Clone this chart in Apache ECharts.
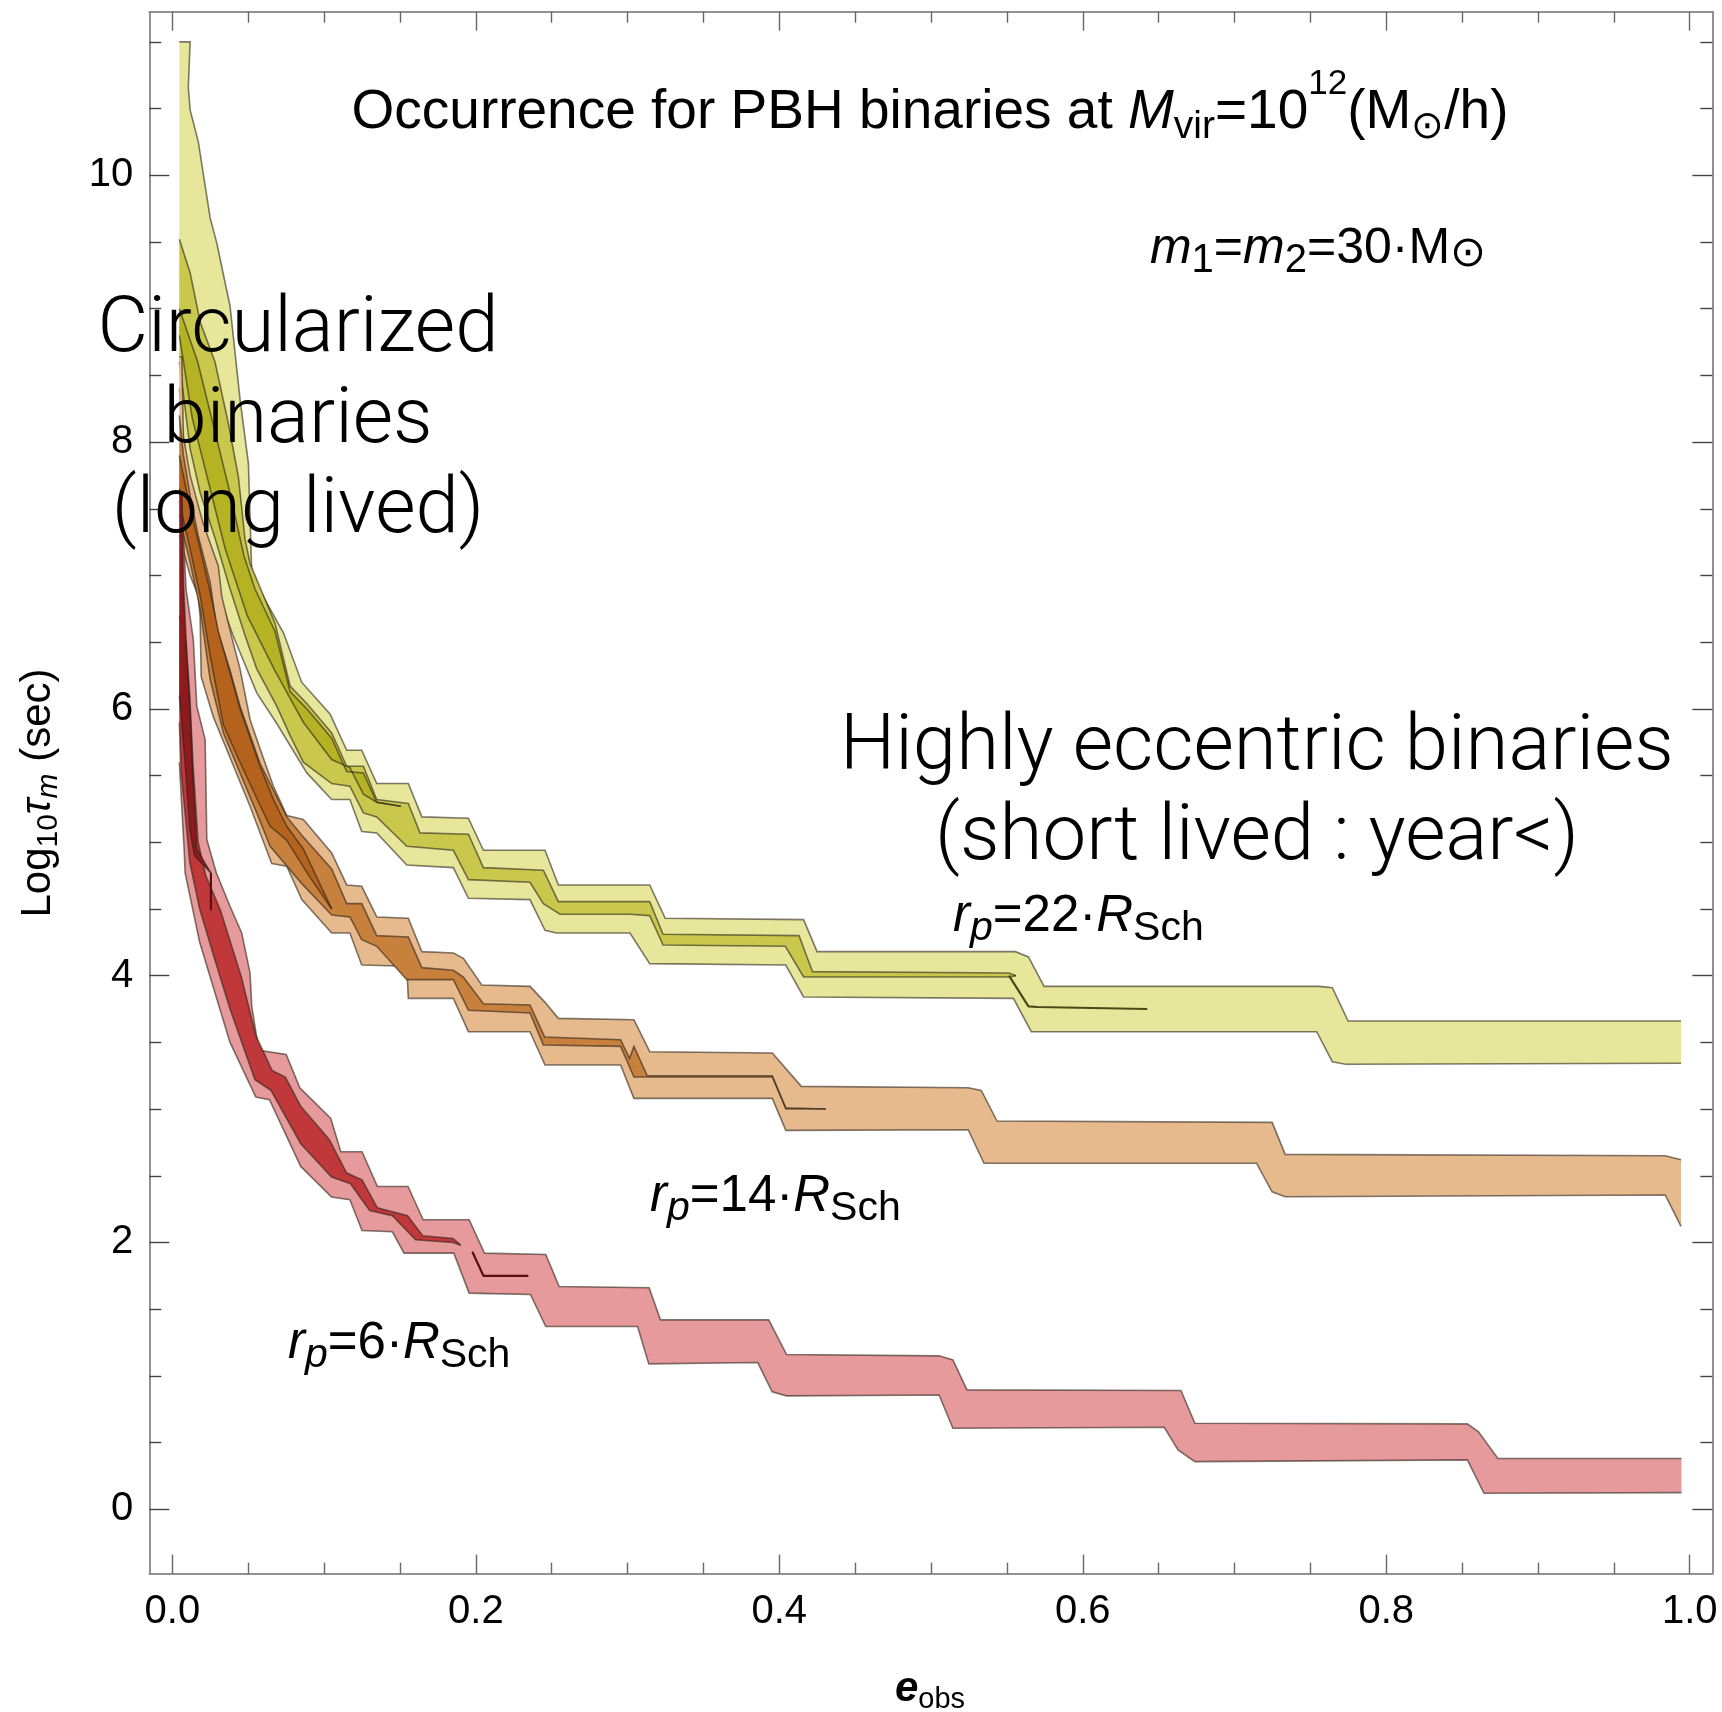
<!DOCTYPE html>
<html><head><meta charset="utf-8">
<script src="https://cdn.jsdelivr.net/npm/echarts@6/dist/echarts.min.js"></script>
<style>html,body{margin:0;padding:0;background:#fff}#c{width:1722px;height:1712px}</style>
</head><body><div id="c"></div>
<script>
// ---------------- axis ranges & ticks ----------------
const X_MIN = -0.0152, X_MAX = 1.0149;
const Y_MIN = -0.483, Y_MAX = 11.226;
const xMajorTicks = [0, 0.2, 0.4, 0.6, 0.8, 1.0];
const xMinorTicks = [0.05, 0.1, 0.15, 0.25, 0.3, 0.35, 0.45, 0.5, 0.55, 0.65, 0.7, 0.75, 0.85, 0.9, 0.95];
const yMajorTicks = [0, 2, 4, 6, 8, 10];
const yMinorTicks = [0.5, 1, 1.5, 2.5, 3, 3.5, 4.5, 5, 5.5, 6.5, 7, 7.5, 8.5, 9, 9.5, 10.5, 11];

// ---------------- r_p = 22 R_Sch (yellow) ----------------
const yellowOuterUpper = [[0.0046,11.0],[0.0117,11.0],[0.0105,10.66],[0.0117,10.49],[0.0171,10.25],[0.0249,9.68],[0.0293,9.49],[0.038,9.02],[0.0446,8.32],[0.0501,7.84],[0.0512,7.44],[0.0523,7.02],[0.06,6.84],[0.0732,6.57],[0.0852,6.2],[0.104,5.96],[0.1149,5.69],[0.1248,5.69],[0.1347,5.44],[0.1555,5.44],[0.1644,5.19],[0.1951,5.18],[0.205,4.94],[0.2456,4.94],[0.2544,4.68],[0.3146,4.68],[0.3248,4.43],[0.416,4.42],[0.4249,4.18],[0.5556,4.18],[0.5642,4.14],[0.5745,3.92],[0.7559,3.92],[0.7645,3.91],[0.7749,3.66],[0.9943,3.66]];
const yellowOuterLower = [[0.0046,8.4],[0.0095,7.7],[0.024,7.05],[0.04,6.55],[0.0556,6.12],[0.0688,5.89],[0.0886,5.52],[0.105,5.32],[0.117,5.32],[0.1248,5.08],[0.1347,5.07],[0.1545,4.83],[0.1852,4.81],[0.1951,4.58],[0.2357,4.57],[0.2456,4.34],[0.2533,4.32],[0.3016,4.32],[0.3146,4.09],[0.4043,4.08],[0.416,3.84],[0.5543,3.83],[0.5661,3.58],[0.7542,3.58],[0.7645,3.355],[0.7732,3.336],[0.9943,3.343]];
const yellowMidUpper = [[0.0046,9.52],[0.0117,9.27],[0.0183,8.9],[0.0281,8.6],[0.0369,8.14],[0.0435,7.74],[0.0479,7.27],[0.0512,7.09],[0.0677,6.64],[0.0776,6.17],[0.0886,6.04],[0.105,5.82],[0.1149,5.57],[0.1259,5.57],[0.1347,5.32],[0.1555,5.29],[0.1632,5.07],[0.1951,5.06],[0.205,4.81],[0.2445,4.79],[0.2544,4.555],[0.3146,4.555],[0.3234,4.31],[0.413,4.3],[0.4219,4.03],[0.5514,4.02],[0.556,4.0]];
const yellowMidLower = [[0.0046,8.6],[0.0117,7.95],[0.0183,7.62],[0.0281,7.28],[0.038,6.9],[0.0479,6.55],[0.0556,6.3],[0.0688,6.02],[0.0776,5.8],[0.0863,5.6],[0.105,5.44],[0.117,5.42],[0.1259,5.22],[0.1347,5.19],[0.1545,4.97],[0.1852,4.94],[0.1951,4.72],[0.2357,4.7],[0.2445,4.54],[0.2555,4.46],[0.3016,4.46],[0.3146,4.45],[0.3234,4.23],[0.404,4.22],[0.416,3.99],[0.5514,3.99],[0.556,4.0]];
const yellowCoreUpper = [[0.0046,9.0],[0.0167,8.6],[0.0276,8.1],[0.0384,7.6],[0.0471,7.15],[0.0544,6.9],[0.0677,6.58],[0.0776,6.13],[0.0886,6.0],[0.105,5.78],[0.1149,5.53],[0.1259,5.52],[0.1347,5.3],[0.1506,5.27]];
const yellowCoreLower = [[0.0046,8.8],[0.0131,8.18],[0.024,7.69],[0.0348,7.2],[0.0493,6.7],[0.0674,6.29],[0.0863,5.9],[0.105,5.62],[0.117,5.56],[0.1259,5.36],[0.1347,5.3],[0.1506,5.27]];
const yellowTail = [[0.5514,4.0],[0.5642,3.77],[0.57,3.765],[0.6425,3.75]];

// ---------------- r_p = 14 R_Sch (orange) ----------------
const orangeOuterUpper = [[0.0046,8.64],[0.0062,8.64],[0.0073,8.04],[0.0117,7.75],[0.02,7.4],[0.0303,7.07],[0.0326,6.84],[0.0391,6.54],[0.0446,6.3],[0.0512,5.92],[0.0578,5.7],[0.0666,5.42],[0.0754,5.2],[0.0863,5.17],[0.105,4.92],[0.1149,4.68],[0.1248,4.67],[0.1347,4.44],[0.1555,4.43],[0.1644,4.18],[0.1852,4.17],[0.1918,4.13],[0.2039,3.93],[0.2357,3.92],[0.2456,3.8],[0.2544,3.68],[0.3042,3.67],[0.3146,3.43],[0.3954,3.42],[0.4145,3.17],[0.5245,3.16],[0.5331,3.14],[0.5435,2.91],[0.7248,2.9],[0.7334,2.66],[0.9839,2.65],[0.9943,2.62]];
const orangeOuterLower = [[0.0046,7.3],[0.008,7.15],[0.0117,7.0],[0.0171,6.85],[0.0183,6.69],[0.019,6.24],[0.027,5.94],[0.0512,5.27],[0.0655,4.84],[0.0754,4.82],[0.0853,4.57],[0.105,4.32],[0.117,4.32],[0.1248,4.08],[0.1545,4.07],[0.1555,3.83],[0.1852,3.83],[0.1951,3.58],[0.2357,3.58],[0.2456,3.33],[0.2954,3.33],[0.3042,3.08],[0.3954,3.08],[0.4043,2.84],[0.5245,2.845],[0.5349,2.594],[0.7145,2.594],[0.7248,2.38],[0.7334,2.343],[0.9839,2.356],[0.9943,2.12]];
const orangeMidUpper = [[0.0046,8.2],[0.0073,7.9],[0.0117,7.6],[0.017,7.3],[0.0249,6.95],[0.0293,6.6],[0.038,6.29],[0.0446,6.02],[0.0578,5.59],[0.0754,5.19],[0.0863,5.04],[0.105,4.8],[0.1149,4.54],[0.1248,4.54],[0.1347,4.3],[0.1555,4.29],[0.1644,4.06],[0.1852,4.04],[0.1918,3.99],[0.205,3.79],[0.2357,3.78],[0.2454,3.54],[0.2954,3.52],[0.3013,3.38],[0.3042,3.47],[0.313,3.25],[0.3954,3.25],[0.4043,3.01],[0.4307,3.0]];
const orangeMidLower = [[0.0046,7.45],[0.0073,7.3],[0.0117,7.1],[0.0183,6.75],[0.0249,6.22],[0.0336,5.82],[0.0446,5.52],[0.0556,5.22],[0.0644,4.97],[0.0853,4.69],[0.105,4.455],[0.117,4.44],[0.1248,4.27],[0.1347,4.22],[0.1545,3.97],[0.1852,3.97],[0.1951,3.74],[0.2357,3.72],[0.2445,3.48],[0.2954,3.47],[0.3042,3.24],[0.3954,3.24],[0.4043,3.0],[0.4307,3.0]];
const orangeCoreUpper = [[0.0046,7.9],[0.0117,7.5],[0.0183,7.2],[0.0249,6.88],[0.0303,6.58],[0.038,6.27],[0.0446,6.0],[0.0578,5.57],[0.0666,5.32],[0.0754,5.12],[0.0863,4.95],[0.105,4.5]];
const orangeCoreLower = [[0.0046,7.55],[0.0117,7.2],[0.0183,6.85],[0.0249,6.4],[0.0336,5.88],[0.0446,5.6],[0.0556,5.33],[0.0644,5.12],[0.075,5.02],[0.09,4.75],[0.105,4.5]];

// ---------------- r_p = 6 R_Sch (red) ----------------
const redOuterUpper = [[0.0046,7.6],[0.006,7.6],[0.009,6.9],[0.0138,6.52],[0.0161,6.02],[0.0216,5.77],[0.0227,5.02],[0.029,4.77],[0.038,4.52],[0.0457,4.32],[0.0512,4.02],[0.0523,3.77],[0.057,3.44],[0.075,3.41],[0.084,3.16],[0.1044,2.93],[0.111,2.68],[0.125,2.68],[0.1351,2.42],[0.1553,2.42],[0.1653,2.17],[0.1956,2.17],[0.2057,1.92],[0.2461,1.91],[0.2549,1.67],[0.3142,1.66],[0.3217,1.42],[0.393,1.42],[0.4048,1.16],[0.5053,1.15],[0.5144,1.12],[0.5237,0.895],[0.6647,0.89],[0.6739,0.645],[0.8535,0.64],[0.8608,0.58],[0.8736,0.38],[0.9946,0.38]];
const redOuterLower = [[0.0046,5.6],[0.0078,4.94],[0.0084,4.77],[0.018,4.25],[0.038,3.5],[0.055,3.09],[0.064,3.07],[0.0846,2.57],[0.1049,2.34],[0.117,2.32],[0.125,2.09],[0.145,2.08],[0.1527,1.92],[0.1855,1.92],[0.1956,1.62],[0.236,1.61],[0.2461,1.37],[0.3066,1.37],[0.314,1.09],[0.3858,1.1],[0.3953,0.88],[0.4048,0.85],[0.5053,0.857],[0.5144,0.607],[0.6537,0.615],[0.6628,0.445],[0.6739,0.357],[0.8535,0.37],[0.8644,0.12],[0.9946,0.125]];
const redMidUpper = [[0.0046,6.7],[0.009,6.5],[0.0115,6.1],[0.0135,5.6],[0.017,5.0],[0.022,4.75],[0.0317,4.49],[0.0455,3.99],[0.055,3.55],[0.0657,3.29],[0.0745,3.24],[0.0846,3.02],[0.1035,2.77],[0.1149,2.52],[0.125,2.47],[0.1351,2.26],[0.155,2.2],[0.165,2.05],[0.185,2.03],[0.19,1.98]];
const redMidLower = [[0.0046,5.9],[0.006,5.5],[0.0115,4.85],[0.018,4.5],[0.028,4.12],[0.038,3.75],[0.0544,3.22],[0.065,3.14],[0.0846,2.74],[0.1049,2.49],[0.1174,2.44],[0.13,2.24],[0.145,2.2],[0.1603,2.02],[0.185,2.0],[0.19,1.98]];
const redCoreUpper = [[0.0046,7.65],[0.0062,7.6],[0.0075,6.9],[0.0095,6.4],[0.012,5.9],[0.0135,5.5],[0.016,4.95],[0.0254,4.77]];
const redCoreLower = [[0.0046,6.1],[0.0062,5.9],[0.009,5.5],[0.0115,5.1],[0.0145,4.9],[0.0254,4.77]];
const redTailA = [[0.0254,4.77],[0.0254,4.49]];
const redTailB = [[0.1977,1.93],[0.205,1.75],[0.2346,1.75]];

// ---------------- styling ----------------
const EDGE = 'rgba(45,35,25,0.6)';
const FONT = '"Liberation Sans", Arial, sans-serif';
const LIGHT = 'Roboto, "Liberation Sans", sans-serif';

function band(name, up, lo, fill, z) {
  return {
    type: 'custom', name: name, z: z, silent: true,
    coordinateSystem: 'cartesian2d', xAxisIndex: 0, yAxisIndex: 0,
    data: up.concat(lo.slice().reverse()),
    encode: { x: 0, y: 1 },
    renderItem: function (params, api) {
      if (params.dataIndex !== 0) return null;
      const U = up.map(p => api.coord(p));
      const L = lo.map(p => api.coord(p));
      return { type: 'group', children: [
        { type: 'polygon', shape: { points: U.concat(L.slice().reverse()) }, style: { fill: fill, stroke: null } },
        { type: 'polyline', shape: { points: U }, style: { fill: null, stroke: EDGE, lineWidth: 1.6 } },
        { type: 'polyline', shape: { points: L }, style: { fill: null, stroke: EDGE, lineWidth: 1.6 } }
      ]};
    }
  };
}
function tail(name, pts, color, z) {
  return { type: 'line', name: name, z: z, data: pts, symbol: 'none', silent: true,
    xAxisIndex: 0, yAxisIndex: 0, lineStyle: { color: color, width: 2.2 } };
}

// rich-text styles: sub/superscripts placed relative to the base baseline
function richSet(s, family, weight, subK) {
  const L = Math.round(s * 1.65), c = 0.29;
  const base = { fontSize: s, fontFamily: family, fontWeight: weight, color: '#000', lineHeight: L, verticalAlign: 'middle' };
  function low(k, d, italic) {
    const mid = L / 2 + c * s + d * s - c * k * s;
    const pB = Math.max(0, L - k * s / 2 - mid);
    return { fontSize: Math.round(k * s), fontFamily: family, fontWeight: weight, fontStyle: italic ? 'italic' : 'normal',
      color: '#000', verticalAlign: 'bottom', padding: [0, 0, pB, 0] };
  }
  return {
    t: base,
    i: Object.assign({}, base, { fontStyle: 'italic' }),
    ib: Object.assign({}, base, { fontStyle: 'italic', fontWeight: 'bold' }),
    sub: low(subK, 0.18, false),
    isub: low(subK, 0.18, true),
    sun: low(0.85, 0.06, false),
    sup: { fontSize: Math.round(s * 0.64), fontFamily: family, fontWeight: weight, color: '#000', verticalAlign: 'top' }
  };
}
function txt(x, y, text, size, opts) {
  opts = opts || {};
  return { type: 'text', x: x, y: y, rotation: opts.rot || 0, z: 100, silent: true,
    style: { text: text, rich: richSet(size, opts.family || FONT, opts.weight || 'normal', opts.subK || 0.7),
      fontSize: size, fontFamily: opts.family || FONT,
      align: opts.align || 'center', textAlign: opts.align || 'center',
      verticalAlign: 'middle', textVerticalAlign: 'middle', fill: '#000' } };
}

const frameLine = { show: true, onZero: false, lineStyle: { color: '#8a8a8a', width: 1.5 } };
function xAx(pos, ticks, len, labels) {
  return { type: 'value', min: X_MIN, max: X_MAX, position: pos, gridIndex: 0,
    axisLine: frameLine, splitLine: { show: false },
    axisTick: { show: true, inside: true, length: len, customValues: ticks, lineStyle: { color: '#666', width: 1.4 } },
    axisLabel: labels ? { show: true, customValues: ticks, margin: 18, fontSize: 40, fontFamily: FONT, color: '#000', formatter: v => v.toFixed(1) } : { show: false } };
}
function yAx(pos, ticks, len, labels) {
  return { type: 'value', min: Y_MIN, max: Y_MAX, position: pos, gridIndex: 0,
    axisLine: frameLine, splitLine: { show: false },
    axisTick: { show: true, inside: true, length: len, customValues: ticks, lineStyle: { color: '#444', width: 1.4 } },
    axisLabel: labels ? { show: true, customValues: ticks, margin: 16, fontSize: 40, fontFamily: FONT, color: '#000', formatter: v => String(Math.round(v)) } : { show: false } };
}

const option = {
  animation: false,
  backgroundColor: '#fff',
  grid: { left: 149.3, right: 9.7, top: 11.7, bottom: 138.3, containLabel: false },
  xAxis: [xAx('bottom', xMajorTicks, 19, true), xAx('bottom', xMinorTicks, 11, false), xAx('top', xMajorTicks, 19, false), xAx('top', xMinorTicks, 11, false)],
  yAxis: [yAx('left', yMajorTicks, 20, true), yAx('left', yMinorTicks, 12, false), yAx('right', yMajorTicks, 20, false), yAx('right', yMinorTicks, 12, false)],
  series: [
    band('yellow outer', yellowOuterUpper, yellowOuterLower, '#e6e79b', 2),
    band('yellow mid', yellowMidUpper, yellowMidLower, '#c9c84c', 3),
    band('yellow core', yellowCoreUpper, yellowCoreLower, '#b4b324', 4),
    tail('yellow tail', yellowTail, '#4a4a18', 5),
    band('orange outer', orangeOuterUpper, orangeOuterLower, '#e7ba8e', 6),
    band('orange mid', orangeMidUpper, orangeMidLower, '#c8803d', 7),
    band('orange core', orangeCoreUpper, orangeCoreLower, '#b5631c', 8),
    band('red outer', redOuterUpper, redOuterLower, '#e79a9b', 9),
    band('red mid', redMidUpper, redMidLower, '#c1383b', 10),
    band('red core', redCoreUpper, redCoreLower, '#8e1a1e', 11),
    tail('red tail a', redTailA, '#5a1010', 12),
    tail('red tail b', redTailB, '#5a1010', 12)
  ],
  graphic: [
    txt(930, 112.5, '{t|Occurrence for PBH binaries at }{i|M}{sub|vir}{t|=10}{sup|12}{t|(M}{sub|⊙}{t|/h)}', 55),
    txt(1318, 249, '{i|m}{sub|1}{t|=}{i|m}{sub|2}{t|=30·M}{sun|⊙}', 50, { subK: 0.8 }),
    txt(298, 331.5, '{t|Circularized}', 78, { family: LIGHT, weight: 300 }),
    txt(298, 422, '{t|binaries}', 78, { family: LIGHT, weight: 300 }),
    txt(298, 512, '{t|(long lived)}', 78, { family: LIGHT, weight: 300 }),
    txt(1257, 749, '{t|Highly eccentric binaries}', 78, { family: LIGHT, weight: 300 }),
    txt(1257, 839, '{t|(short lived : year<)}', 78, { family: LIGHT, weight: 300 }),
    txt(953, 917, '{i|r}{isub|p}{t|=22·}{i|R}{sub|Sch}', 51, { align: 'left', subK: 0.8 }),
    txt(650, 1197, '{i|r}{isub|p}{t|=14·}{i|R}{sub|Sch}', 51, { align: 'left', subK: 0.8 }),
    txt(288, 1344, '{i|r}{isub|p}{t|=6·}{i|R}{sub|Sch}', 51, { align: 'left', subK: 0.8 }),
    txt(930, 1689, '{ib|e}{sub|obs}', 42),
    txt(38, 793, '{t|Log}{sub|10}{i|τ}{isub|m}{t| (sec)}', 42, { rot: Math.PI / 2, subK: 0.72 })
  ]
};
const chart = echarts.init(document.getElementById('c'), null, { renderer: 'canvas', width: 1722, height: 1712 });
chart.setOption(option);
</script></body></html>
